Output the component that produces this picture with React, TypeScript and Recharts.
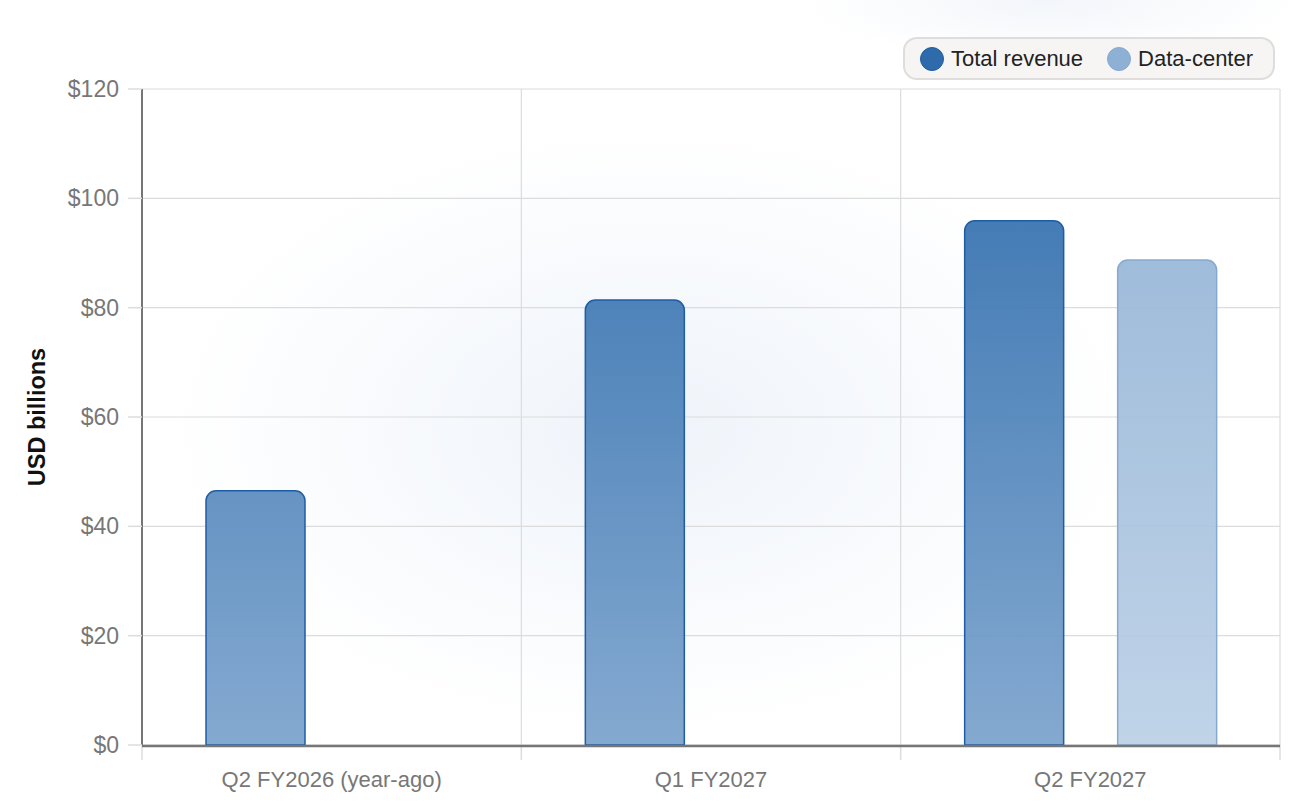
import React from 'react';
import { BarChart, Bar, XAxis, YAxis, CartesianGrid, Legend } from 'recharts';

const categories = ['Q2 FY2026 (year-ago)', 'Q1 FY2027', 'Q2 FY2027'];
const totalRevenue = [46.5, 81.4, 95.9];
const dataCenter: (number | null)[] = [null, null, 88.7];
const yTicks = [0, 20, 40, 60, 80, 100, 120];
const boundaryTicks = [0, 1, 2, 3];

const data = categories.map((c, i) => ({
  name: c,
  total: totalRevenue[i],
  dc: dataCenter[i],
}));

const FONT = '"Liberation Sans", Arial, sans-serif';

const LegendContent = () => (
  <div
    style={{
      boxSizing: 'border-box',
      height: 43,
      display: 'flex',
      alignItems: 'center',
      padding: '0 20px 0 15px',
      background: '#f6f5f3',
      border: '2px solid #dedddb',
      borderRadius: 14,
      fontFamily: FONT,
      fontSize: 22,
      color: '#222',
      whiteSpace: 'nowrap',
    }}
  >
    <span style={{ display: 'inline-block', width: 22, height: 22, borderRadius: '50%', background: '#2f6bab', border: '1.5px solid #1f5ca0', marginRight: 7 }} />
    <span style={{ marginRight: 24 }}>Total revenue</span>
    <span style={{ display: 'inline-block', width: 22, height: 22, borderRadius: '50%', background: '#8eb0d4', border: '1.5px solid #86a9cf', marginRight: 7 }} />
    <span>Data-center</span>
  </div>
);

export default function App() {
  return (
    <div
      style={{
        position: 'absolute',
        left: 0,
        top: 0,
        width: 1316,
        height: 808,
        background:
          'radial-gradient(ellipse 480px 300px at 650px 430px, rgba(225,234,246,0.55), rgba(255,255,255,0) 100%), radial-gradient(ellipse 250px 60px at 1050px 0px, rgba(230,236,246,0.5), rgba(255,255,255,0) 100%), #ffffff',
      }}
    >
      <BarChart
        width={1316}
        height={808}
        data={data}
        margin={{ top: 89, right: 36, bottom: 23, left: 0 }}
        barGap={54}
        barCategoryGap={64}
      >
        <defs>
          <linearGradient id="gTotal" gradientUnits="userSpaceOnUse" x1="0" y1="89" x2="0" y2="745">
            <stop offset="0%" stopColor="#2a69aa" stopOpacity={0.95} />
            <stop offset="100%" stopColor="#7ea5ce" stopOpacity={0.95} />
          </linearGradient>
          <linearGradient id="gDc" gradientUnits="userSpaceOnUse" x1="0" y1="89" x2="0" y2="745">
            <stop offset="0%" stopColor="#8aadd2" stopOpacity={0.92} />
            <stop offset="100%" stopColor="#bbd0e6" stopOpacity={0.92} />
          </linearGradient>
        </defs>
        <CartesianGrid xAxisId="a" stroke="#dcdcdc" strokeWidth={1.2} />
        <XAxis
          xAxisId="a"
          type="number"
          dataKey={() => 0}
          domain={[0, 3]}
          ticks={boundaryTicks}
          axisLine={false}
          tickLine={{ stroke: '#dcdcdc', strokeWidth: 1.5 }}
          tickSize={15}
          tickMargin={0}
          tick={() => <g />}
          height={1}
        />
        <XAxis
          xAxisId="c"
          dataKey="name"
          axisLine={{ stroke: '#767676', strokeWidth: 2.5 }}
          tickLine={false}
          tickSize={6}
          tickMargin={19}
          height={39}
          tick={{ fill: '#777', fontSize: 22, fontFamily: FONT }}
        />
        <YAxis
          width={142}
          domain={[0, 120]}
          ticks={yTicks}
          tickFormatter={(v: number) => `$${v}`}
          axisLine={{ stroke: '#767676', strokeWidth: 2 }}
          tickLine={{ stroke: '#dcdcdc', strokeWidth: 1.5 }}
          tickSize={14}
          tickMargin={9}
          tick={{ fill: '#777', fontSize: 23, fontFamily: FONT }}
          label={{
            value: 'USD billions',
            angle: -90,
            position: 'center',
            dx: -34,
            style: { fill: '#111', fontSize: 23.5, fontWeight: 'bold', fontFamily: FONT, textAnchor: 'middle' },
          }}
        />
        <Legend
          layout="horizontal"
          verticalAlign="middle"
          align="center"
          content={() => <LegendContent />}
          wrapperStyle={{ top: 37, left: 903, width: 'auto', right: 'auto', bottom: 'auto' }}
        />
        <Bar
          xAxisId="c"
          dataKey="total"
          name="Total revenue"
          fill="url(#gTotal)"
          stroke="#1f5ca6"
          strokeWidth={1.5}
          radius={[10, 10, 0, 0]}
          isAnimationActive={false}
        />
        <Bar
          xAxisId="c"
          dataKey="dc"
          name="Data-center"
          fill="url(#gDc)"
          stroke="#86a9cf"
          strokeWidth={1.5}
          radius={[10, 10, 0, 0]}
          isAnimationActive={false}
        />
      </BarChart>
    </div>
  );
}
